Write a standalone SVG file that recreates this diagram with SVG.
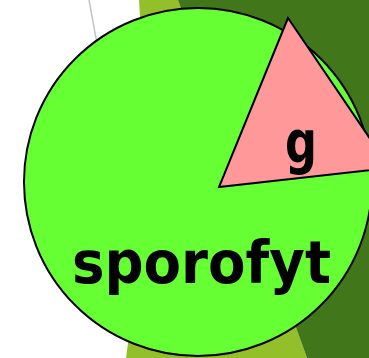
<svg xmlns="http://www.w3.org/2000/svg" width="369" height="358" viewBox="0 0 369 358">
<style>
.lbl{font-family:"Comic Sans MS","DejaVu Sans",sans-serif;font-weight:bold;font-size:58px;fill:#000}
.edge{stroke:#000;stroke-width:2;stroke-linejoin:miter}
</style>
<rect width="369" height="358" fill="#fff"/>
<g id="background">
<line x1="89" y1="0" x2="100" y2="60" stroke="#c4c4c4" stroke-width="1.5"/>
<polygon points="139,0 178,0 307,358 126,358 150,180" fill="#93bf2a"/>
<polygon points="178,0 369,0 369,358 307,358" fill="#41761b"/>
</g>
<g id="sporofyt">
<circle class="edge" cx="198" cy="182" r="174" fill="#66ff33"/>
<text class="lbl" x="72" y="283" textLength="259" lengthAdjust="spacingAndGlyphs">sporofyt</text>
</g>
<g id="g">
<polygon class="edge" points="288,18 219,187 390,168" fill="#ff9999"/>
<text class="lbl" x="285" y="163" textLength="32" lengthAdjust="spacingAndGlyphs">g</text>
</g>
<g id="connectors"/>
</svg>
